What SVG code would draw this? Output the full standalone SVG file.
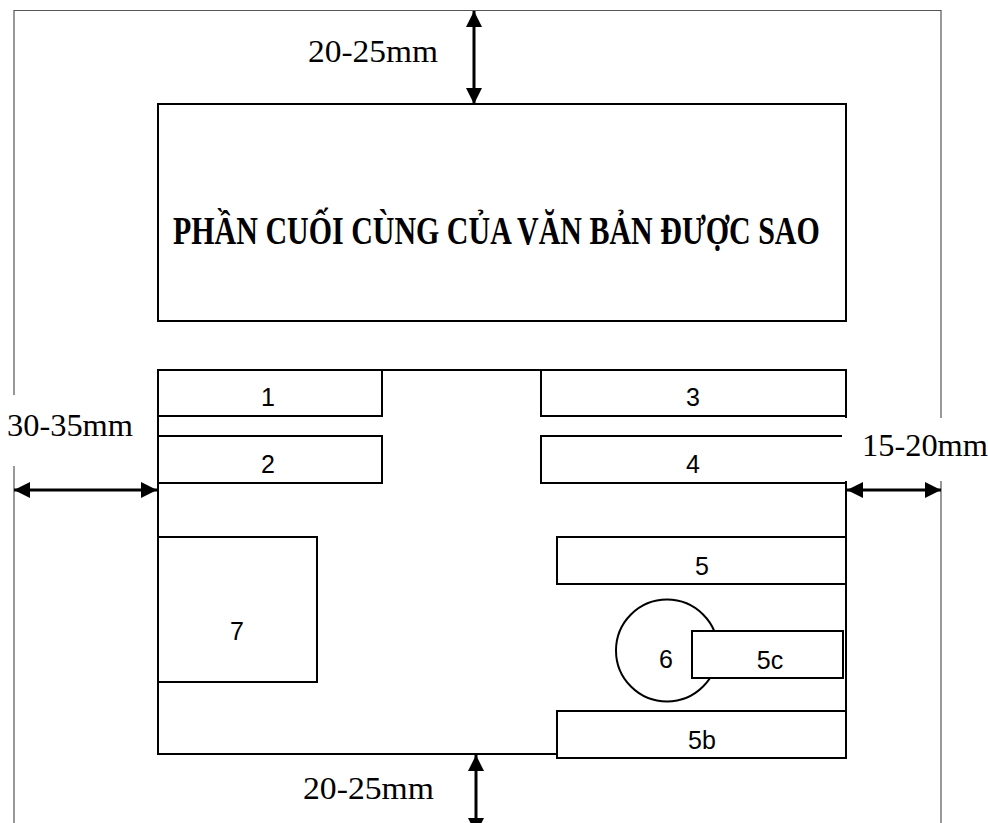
<svg xmlns="http://www.w3.org/2000/svg" width="988" height="823" viewBox="0 0 988 823">
<style>
.box{fill:#fff;stroke:#000;stroke-width:2}
.ln{fill:none;stroke:#000;stroke-width:2}
.page{fill:none;stroke:#555;stroke-width:1.2}
.num{font-family:"Liberation Sans",Arial,sans-serif;font-size:25px;fill:#000;text-anchor:middle}
.dim{font-family:"Liberation Serif","Times New Roman",serif;font-size:32px;fill:#000}
.title{font-family:"Liberation Serif","Times New Roman",serif;font-size:39px;font-weight:bold;fill:#000}
.arr{stroke:#000;stroke-width:3;fill:none;marker-start:url(#ah);marker-end:url(#ah)}
</style>
<defs>
<marker id="ah" markerUnits="userSpaceOnUse" markerWidth="18" markerHeight="16" refX="16" refY="8" orient="auto-start-reverse">
<path d="M0,0 L16,8 L0,16 Z" fill="#000"/>
</marker>
</defs>
<rect width="988" height="823" fill="#fff"/>
<path class="page" d="M14,900 V10.5 H941 V900"/>
<g id="outline">
<path class="ln" d="M158,370 H846 V758"/>
<path class="ln" d="M158,370 V754 H557"/>
</g>
<g id="title">
<rect class="box" x="158" y="104" width="688" height="217"/>
<text class="title" transform="translate(173,244) scale(0.84,1)" x="0" y="0" textLength="770" lengthAdjust="spacingAndGlyphs">PHẦN CUỐI CÙNG CỦA VĂN BẢN ĐƯỢC SAO</text>
</g>
<g id="n1"><rect class="box" x="158" y="370" width="224" height="46"/><text class="num" x="268" y="406">1</text></g>
<g id="n2"><rect class="box" x="158" y="436" width="224" height="47"/><text class="num" x="268" y="473">2</text></g>
<g id="n3"><rect class="box" x="541" y="370" width="305" height="46"/><text class="num" x="693" y="406">3</text></g>
<g id="n4"><rect class="box" x="541" y="436" width="305" height="47"/><text class="num" x="693" y="473">4</text></g>
<g id="n5"><rect class="box" x="557" y="537" width="289" height="47"/><text class="num" x="702" y="575">5</text></g>
<g id="n6"><circle class="box" cx="667" cy="650.5" r="51"/><text class="num" x="666" y="668">6</text></g>
<g id="n5c"><rect class="box" x="692" y="631" width="151" height="47"/><text class="num" x="770" y="669">5c</text></g>
<g id="n5b"><rect class="box" x="557" y="711" width="289" height="47"/><text class="num" x="702" y="749">5b</text></g>
<g id="n7"><rect class="box" x="158" y="537" width="159" height="145"/><text class="num" x="237" y="640">7</text></g>
<g id="labels">
<rect x="0" y="395" width="157" height="71" fill="#fff"/>
<rect x="842" y="418" width="146" height="63" fill="#fff"/>
<text class="dim" x="308" y="62" textLength="130" lengthAdjust="spacingAndGlyphs">20-25mm</text>
<text class="dim" x="7" y="436" textLength="126" lengthAdjust="spacingAndGlyphs">30-35mm</text>
<text class="dim" x="862" y="456" textLength="126" lengthAdjust="spacingAndGlyphs">15-20mm</text>
<text class="dim" x="303" y="799" textLength="131" lengthAdjust="spacingAndGlyphs">20-25mm</text>
</g>
<g id="connectors">
<line class="arr" x1="474" y1="11" x2="474" y2="104"/>
<line class="arr" x1="476" y1="755" x2="476" y2="834"/>
<line class="arr" x1="14" y1="490" x2="157" y2="490"/>
<line class="arr" x1="847" y1="490" x2="941" y2="490"/>
</g>
</svg>
